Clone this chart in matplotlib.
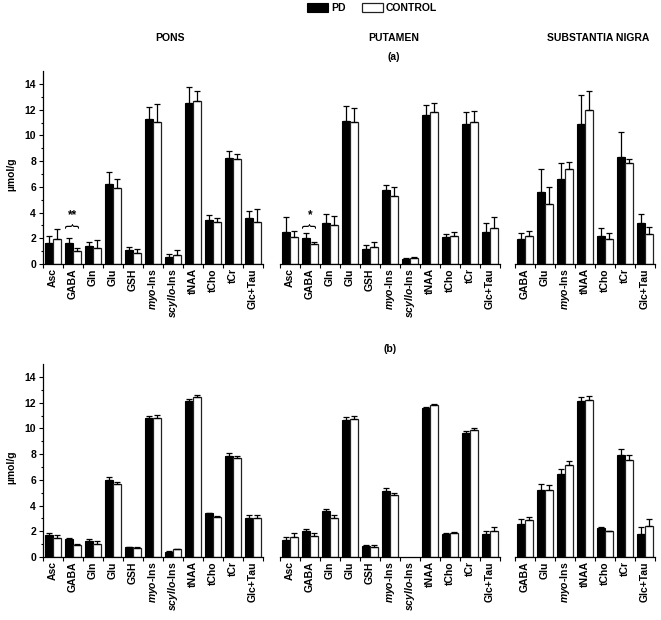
import numpy as np
import matplotlib
matplotlib.use("Agg")
import matplotlib.pyplot as plt

plt.rcParams['font.family'] = ['Liberation Sans', 'DejaVu Sans']
plt.rcParams['font.weight'] = 'bold'
plt.rcParams['mathtext.fontset'] = 'custom'
plt.rcParams['mathtext.it'] = 'Liberation Sans:italic:bold'
plt.rcParams['mathtext.rm'] = 'Liberation Sans:bold'

nan = np.nan

# category labels
pons_cats = ['Asc', 'GABA', 'Gln', 'Glu', 'GSH', r'$\it{myo}$-Ins', r'$\it{scyllo}$-Ins',
             'tNAA', 'tCho', 'tCr', 'Glc+Tau']
put_cats = pons_cats
sn_cats = ['GABA', 'Glu', r'$\it{myo}$-Ins', 'tNAA', 'tCho', 'tCr', 'Glc+Tau']

# panel (a)
pons_a_pd = [1.65, 1.62, 1.38, 6.25, 1.05, 11.27, 0.57, 12.5, 3.4, 8.27, 3.6]
pons_a_pd_err = [0.5, 0.37, 0.35, 0.9, 0.26, 0.96, 0.2, 1.25, 0.4, 0.52, 0.5]
pons_a_ctrl = [1.95, 0.99, 1.28, 5.93, 0.85, 11.08, 0.73, 12.65, 3.3, 8.15, 3.3]
pons_a_ctrl_err = [0.8, 0.25, 0.55, 0.65, 0.28, 1.38, 0.36, 0.78, 0.26, 0.4, 1.0]

put_a_pd = [2.47, 2.06, 3.2, 11.14, 1.2, 5.78, 0.42, 11.58, 2.1, 10.9, 2.45]
put_a_pd_err = [1.17, 0.36, 0.65, 1.17, 0.31, 0.36, 0.07, 0.75, 0.22, 0.9, 0.72]
put_a_ctrl = [2.13, 1.56, 3.04, 11.06, 1.35, 5.31, 0.47, 11.84, 2.2, 11.06, 2.81]
put_a_ctrl_err = [0.47, 0.18, 0.73, 1.04, 0.34, 0.68, 0.1, 0.68, 0.28, 0.86, 0.83]

sn_a_pd = [1.98, 5.62, 6.64, 10.85, 2.16, 8.33, 3.17]
sn_a_pd_err = [0.41, 1.8, 1.22, 2.29, 0.62, 1.9, 0.68]
sn_a_ctrl = [2.19, 4.68, 7.42, 11.97, 1.95, 7.86, 2.34]
sn_a_ctrl_err = [0.36, 1.3, 0.52, 1.51, 0.44, 0.34, 0.57]

# panel (b)
pons_b_pd = [1.69, 1.41, 1.22, 5.98, 0.75, 10.8, 0.42, 12.15, 3.41, 7.86, 3.04]
pons_b_pd_err = [0.21, 0.1, 0.16, 0.21, 0.06, 0.2, 0.03, 0.1, 0.05, 0.21, 0.24]
pons_b_ctrl = [1.51, 0.91, 1.04, 5.67, 0.73, 10.82, 0.6, 12.44, 3.12, 7.68, 3.04]
pons_b_ctrl_err = [0.18, 0.13, 0.18, 0.18, 0.08, 0.26, 0.05, 0.13, 0.05, 0.18, 0.21]

put_b_pd = [1.3, 2.03, 3.59, 10.67, 0.88, 5.15, nan, 11.55, 1.82, 9.63, 1.82]
put_b_pd_err = [0.26, 0.18, 0.18, 0.21, 0.08, 0.24, nan, 0.1, 0.05, 0.13, 0.21]
put_b_ctrl = [1.56, 1.67, 3.02, 10.72, 0.81, 4.79, nan, 11.79, 1.87, 9.84, 2.03]
put_b_ctrl_err = [0.34, 0.2, 0.23, 0.21, 0.12, 0.21, nan, 0.13, 0.06, 0.18, 0.31]

sn_b_pd = [2.58, 5.18, 6.45, 12.13, 2.24, 7.94, 1.77]
sn_b_pd_err = [0.36, 0.49, 0.37, 0.33, 0.08, 0.47, 0.57]
sn_b_ctrl = [2.84, 5.18, 7.16, 12.2, 2.0, 7.55, 2.42]
sn_b_ctrl_err = [0.28, 0.44, 0.33, 0.34, 0.06, 0.36, 0.52]

W, H = 661, 620
fig = plt.figure(figsize=(W / 100, H / 100), dpi=100)


def px_axes(x0, y_zero, ncat):
    # axes box from pixel coords: left edge, pixel row of y=0
    left = x0 / W
    width = ncat * 20 / W
    bottom = 1 - y_zero / H
    height = 15 * 12.86 / H
    return fig.add_axes([left, bottom, width, height])


def draw_group(ax, cats, pd, pd_err, ctrl, ctrl_err, show_y):
    n = len(cats)
    x = np.arange(n)
    w = 0.42
    pd = np.array(pd, dtype=float)
    ctrl = np.array(ctrl, dtype=float)
    b1 = ax.bar(x - w / 2, pd, w, color='black', edgecolor='black', linewidth=0.8)
    b2 = ax.bar(x + w / 2, ctrl, w, color='white', edgecolor='#222222', linewidth=0.9)
    ax.errorbar(x - w / 2, pd, yerr=[np.zeros(n), pd_err], fmt='none',
                ecolor='black', elinewidth=0.9, capsize=2.5, capthick=0.9)
    ax.errorbar(x + w / 2, ctrl, yerr=[np.zeros(n), ctrl_err], fmt='none',
                ecolor='black', elinewidth=0.9, capsize=2.5, capthick=0.9)
    ax.set_xlim(-0.5, n - 0.5)
    ax.set_ylim(0, 15)
    ax.set_xticks(np.arange(n + 1) - 0.5)
    ax.set_xticklabels([])
    ax.set_xticks(x, labels=cats, minor=True, rotation=90, fontsize=7.5, fontweight='bold')
    ax.tick_params(axis='x', which='major', length=3, width=0.8, direction='out')
    ax.tick_params(axis='x', which='minor', length=0, pad=3)
    ax.spines['top'].set_visible(False)
    ax.spines['right'].set_visible(False)
    ax.spines['bottom'].set_linewidth(0.9)
    if show_y:
        ax.set_yticks(np.arange(0, 15, 2))
        ax.set_yticks(np.arange(0, 15, 1), minor=True)
        ax.tick_params(axis='y', which='major', length=3, width=0.8, labelsize=7.5, pad=2)
        ax.tick_params(axis='y', which='minor', length=1.8, width=0.8)
        ax.spines['left'].set_linewidth(0.9)
    else:
        ax.spines['left'].set_visible(False)
        ax.tick_params(axis='y', which='both', left=False, labelleft=False)
    return b1, b2


def signif(ax, xi, stars):
    ax.text(xi, 3.0, '}', rotation=90, ha='center', va='center', fontsize=11,
            fontweight='normal')
    ax.text(xi, 3.8, stars, ha='center', va='center', fontsize=8.5)


for y_zero, data in [(264, 'a'), (557, 'b')]:
    ax1 = px_axes(43, y_zero, 11)
    ax2 = px_axes(280, y_zero, 11)
    ax3 = px_axes(515, y_zero, 7)
    if data == 'a':
        h = draw_group(ax1, pons_cats, pons_a_pd, pons_a_pd_err, pons_a_ctrl, pons_a_ctrl_err, True)
        draw_group(ax2, put_cats, put_a_pd, put_a_pd_err, put_a_ctrl, put_a_ctrl_err, False)
        draw_group(ax3, sn_cats, sn_a_pd, sn_a_pd_err, sn_a_ctrl, sn_a_ctrl_err, False)
        signif(ax1, 1, '**')
        signif(ax2, 1, '*')
    else:
        draw_group(ax1, pons_cats, pons_b_pd, pons_b_pd_err, pons_b_ctrl, pons_b_ctrl_err, True)
        draw_group(ax2, put_cats, put_b_pd, put_b_pd_err, put_b_ctrl, put_b_ctrl_err, False)
        draw_group(ax3, sn_cats, sn_b_pd, sn_b_pd_err, sn_b_ctrl, sn_b_ctrl_err, False)
    fig.text(11 / W, 1 - (y_zero - 90) / H, 'µmol/g', rotation=90, ha='center', va='center',
             fontsize=7.5, fontweight='bold')

fig.text(170 / W, 1 - 38 / H, 'PONS', ha='center', va='center', fontsize=7.5, fontweight='bold')
fig.text(394 / W, 1 - 38 / H, 'PUTAMEN', ha='center', va='center', fontsize=7.5, fontweight='bold')
fig.text(598 / W, 1 - 38 / H, 'SUBSTANTIA NIGRA', ha='center', va='center', fontsize=7.5, fontweight='bold')
fig.text(394 / W, 1 - 57 / H, '(a)', ha='center', va='center', fontsize=7.5, fontweight='bold')
fig.text(390 / W, 1 - 349 / H, '(b)', ha='center', va='center', fontsize=7.5, fontweight='bold')

fig.legend(h, ['PD', 'CONTROL'], loc='center', bbox_to_anchor=(372 / W, 1 - 8 / H),
           ncol=2, frameon=False, handlelength=2.0, handleheight=0.9,
           columnspacing=1.6, handletextpad=0.3, prop={'weight': 'bold', 'size': 7.5})

fig.savefig('out.png', dpi=100)
